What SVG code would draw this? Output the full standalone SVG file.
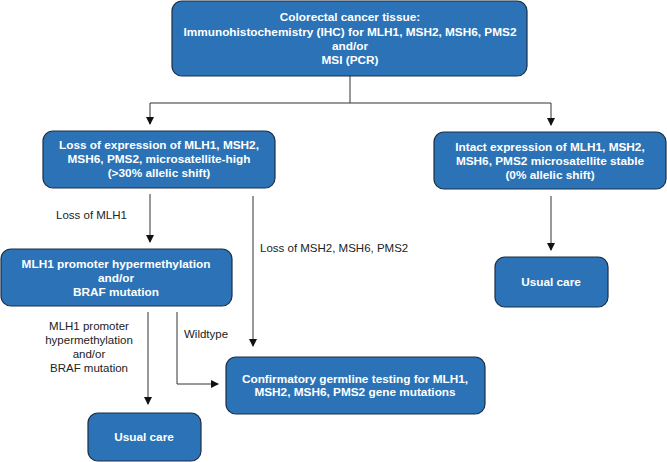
<svg xmlns="http://www.w3.org/2000/svg" width="667" height="462" viewBox="0 0 667 462">
<style>
.box{fill:#2b73b6;stroke:#1c2f45;stroke-width:1.2}
.bt{font-family:"Liberation Sans",Arial,sans-serif;font-weight:bold;font-size:11.8px;fill:#fff;text-anchor:middle}
.lb{font-family:"Liberation Sans",Arial,sans-serif;font-size:11.5px;fill:#222}
.ln{fill:none;stroke:#333;stroke-width:1}
</style>
<defs>
<marker id="ah" markerWidth="8" markerHeight="8" refX="7" refY="4" orient="auto" markerUnits="userSpaceOnUse">
<path d="M0,0 L8,4 L0,8 Z" fill="#111"/>
</marker>
</defs>
<rect width="667" height="462" fill="#fff"/>
<g id="connectors">
<path class="ln" d="M350,76 V103"/>
<path class="ln" d="M150,103 H551"/>
<path class="ln" d="M150,103 V124" marker-end="url(#ah)"/>
<path class="ln" d="M551,103 V125" marker-end="url(#ah)"/>
<path class="ln" d="M150,194 V242" marker-end="url(#ah)"/>
<path class="ln" d="M253,196 V346" marker-end="url(#ah)"/>
<path class="ln" d="M551,196 V250" marker-end="url(#ah)"/>
<path class="ln" d="M148,312 V404" marker-end="url(#ah)"/>
<path class="ln" d="M177,312 V384 H218" marker-end="url(#ah)"/>
<text class="lb" x="56" y="219">Loss of MLH1</text>
<text class="lb" x="260" y="252">Loss of MSH2, MSH6, PMS2</text>
<text class="lb" x="184" y="338">Wildtype</text>
<text class="lb" text-anchor="middle" x="89"><tspan x="89" y="330">MLH1 promoter</tspan><tspan x="89" y="344">hypermethylation</tspan><tspan x="89" y="358">and/or</tspan><tspan x="89" y="372">BRAF mutation</tspan></text>
</g>
<g id="n1">
<rect class="box" x="172" y="1" width="355" height="75" rx="10"/>
<text class="bt"><tspan x="350" y="21">Colorectal cancer tissue:</tspan><tspan x="350" y="36">Immunohistochemistry (IHC) for MLH1, MSH2, MSH6, PMS2</tspan><tspan x="350" y="50">and/or</tspan><tspan x="350" y="64">MSI (PCR)</tspan></text>
</g>
<g id="n2">
<rect class="box" x="43" y="131" width="232" height="57" rx="10"/>
<text class="bt"><tspan x="159" y="149">Loss of expression of MLH1, MSH2,</tspan><tspan x="159" y="163">MSH6, PMS2, microsatellite-high</tspan><tspan x="159" y="177">(&gt;30% allelic shift)</tspan></text>
</g>
<g id="n3">
<rect class="box" x="434" y="132" width="232" height="57" rx="10"/>
<text class="bt"><tspan x="550" y="151">Intact expression of MLH1, MSH2,</tspan><tspan x="550" y="165">MSH6, PMS2 microsatellite stable</tspan><tspan x="550" y="179">(0% allelic shift)</tspan></text>
</g>
<g id="n4">
<rect class="box" x="495" y="257" width="113" height="50" rx="10"/>
<text class="bt" x="551" y="286">Usual care</text>
</g>
<g id="n5">
<rect class="box" x="1" y="249" width="231" height="57" rx="10"/>
<text class="bt"><tspan x="116" y="268">MLH1 promoter hypermethylation</tspan><tspan x="116" y="282">and/or</tspan><tspan x="116" y="296">BRAF mutation</tspan></text>
</g>
<g id="n6">
<rect class="box" x="226" y="357" width="259" height="57" rx="10"/>
<text class="bt"><tspan x="355" y="383">Confirmatory germline testing for MLH1,</tspan><tspan x="355" y="396">MSH2, MSH6, PMS2 gene mutations</tspan></text>
</g>
<g id="n7">
<rect class="box" x="88" y="413" width="113" height="48" rx="10"/>
<text class="bt" x="144" y="441">Usual care</text>
</g>
</svg>
